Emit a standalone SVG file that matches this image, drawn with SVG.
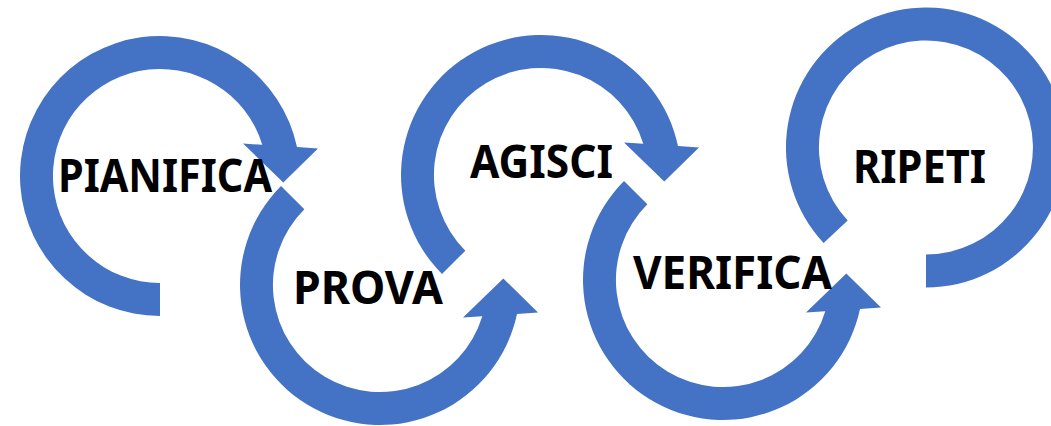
<svg xmlns="http://www.w3.org/2000/svg" width="1051" height="426" viewBox="0 0 1051 426">
<style>
.arc{fill:#4472C4;}
.lbl{font-family:"Noto Sans","Open Sans","Liberation Sans",sans-serif;font-weight:bold;font-size:47px;fill:#000;text-anchor:middle;}
</style>
<defs>
<path id="arcB" d="M-99,99 A140,140 0 1 1 137,-28.9 L158,-27.5 L123.3,6.5 L83,-32.5 L102.3,-31.2 A107,107 0 1 0 -75.66,75.66 Z"/>
</defs>
<rect width="1051" height="426" fill="#fff"/>
<g id="node-ripeti">
<path class="arc" d="M823.6,243 A140,140 0 1 1 926,287.5 L926,254.5 A107,107 0 1 0 847.7,220.5 Z"/>
<text class="lbl" x="919.5" y="182.5" textLength="133" lengthAdjust="spacingAndGlyphs">RIPETI</text>
</g>
<g id="node-verifica">
<use class="arc" href="#arcB" transform="translate(723,280) scale(1,-1)"/>
<text class="lbl" x="732.5" y="288.5" textLength="199" lengthAdjust="spacingAndGlyphs">VERIFICA</text>
</g>
<g id="node-agisci">
<use class="arc" href="#arcB" transform="translate(541,175)"/>
<text class="lbl" x="541.5" y="177.5" textLength="143" lengthAdjust="spacingAndGlyphs">AGISCI</text>
</g>
<g id="node-prova">
<use class="arc" href="#arcB" transform="translate(380,285) scale(1,-1)"/>
<text class="lbl" x="368" y="304" textLength="150" lengthAdjust="spacingAndGlyphs">PROVA</text>
</g>
<g id="node-pianifica">
<path class="arc" transform="translate(160,176)" d="M0,140 A140,140 0 1 1 137,-28.9 L158,-27.5 L123.3,6.5 L83,-32.5 L102.3,-31.2 A107,107 0 1 0 0,107 Z"/>
<text class="lbl" x="165" y="192" textLength="214" lengthAdjust="spacingAndGlyphs">PIANIFICA</text>
</g>
</svg>
